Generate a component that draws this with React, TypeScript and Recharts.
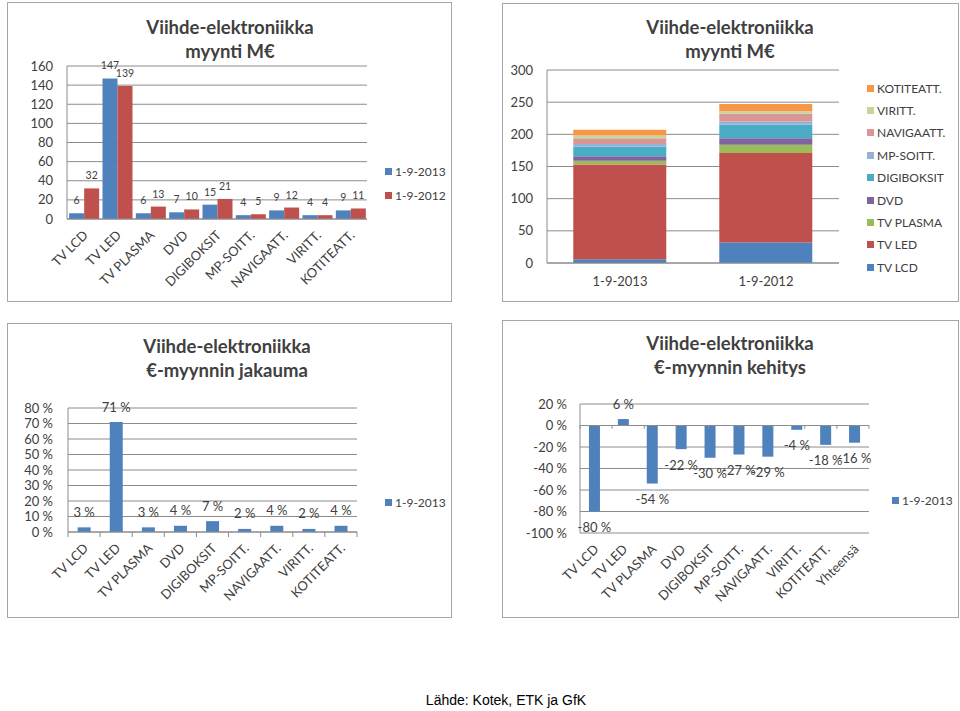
import React from "react";
import { BarChart, Bar, XAxis, YAxis, CartesianGrid, LabelList, Legend, ReferenceLine } from "recharts";

const categories = ["TV LCD", "TV LED", "TV PLASMA", "DVD", "DIGIBOKSIT", "MP-SOITT.", "NAVIGAATT.", "VIRITT.", "KOTITEATT."];
const periods = ["1-9-2013", "1-9-2012"];
const sales2013 = [6, 147, 6, 7, 15, 4, 9, 4, 9];
const sales2012 = [32, 139, 13, 10, 21, 5, 12, 4, 11];
const share2013 = [3, 71, 3, 4, 7, 2, 4, 2, 4];
const changeCategories = [...categories, "Yhteensä"];
const change2013 = [-80, 6, -54, -22, -30, -27, -29, -4, -18, -16];

const salesTicks = [0, 20, 40, 60, 80, 100, 120, 140, 160];
const stackTicks = [0, 50, 100, 150, 200, 250, 300];
const shareTicks = [0, 10, 20, 30, 40, 50, 60, 70, 80];
const changeTicks = [-100, -80, -60, -40, -20, 0, 20];

const stackColors = ["#4F81BD", "#C0504D", "#9BBB59", "#8064A2", "#4BACC6", "#95B3D7", "#D99694", "#C3D69B", "#F79646"];
const BLUE = "#4F81BD";
const RED = "#C0504D";
const TEXT = "#404040";
const GRID = "#8C8C8C";
const FONT = "Lato, 'Open Sans', sans-serif";

const salesData = categories.map((c, i) => ({ name: c, a: sales2013[i], b: sales2012[i] }));
const stackData = periods.map((p, pi) => {
  const row: Record<string, string | number> = { name: p };
  categories.forEach((c, i) => {
    row[c] = (pi === 0 ? sales2013 : sales2012)[i];
  });
  return row;
});
const shareData = categories.map((c, i) => ({ name: c, v: share2013[i] }));
const changeData = changeCategories.map((c, i) => ({ name: c, v: change2013[i] }));

const pct = (v: number) => `${v} %`;

function RotatedTick(props: any) {
  const { x, y, payload, index, marks, count } = props;
  const half = typeof payload?.offset === "number" ? payload.offset : 0;
  const ax = x + 5;
  const ay = y + 17;
  return (
    <g>
      {marks ? <line x1={x - half} x2={x - half} y1={y} y2={y + 5} stroke={GRID} /> : null}
      {marks && index === count - 1 ? <line x1={x + half} x2={x + half} y1={y} y2={y + 5} stroke={GRID} /> : null}
      <text x={ax} y={ay} textAnchor="end" transform={`rotate(-45 ${ax} ${ay})`} fontSize={13} fill={TEXT} fontFamily={FONT}>
        {payload.value}
      </text>
    </g>
  );
}

// percent label: above positive bars, below negative ones
function PctLabel(props: any) {
  const { x, y, width, height, value } = props;
  const top = Math.min(y, y + height);
  const bottom = Math.max(y, y + height);
  const cy = value < 0 ? bottom + 16 : top - 15;
  return (
    <text x={x + width / 2} y={cy} dy="0.35em" textAnchor="middle" fontSize={13} fill={TEXT} fontFamily={FONT}>
      {pct(value)}
    </text>
  );
}

function LegendList({ items, step }: { items: { label: string; color: string }[]; step: number }) {
  return (
    <div style={{ fontFamily: FONT, fontSize: 12, color: TEXT }}>
      {items.map((it) => (
        <div key={it.label} style={{ height: step, display: "flex", alignItems: "center", whiteSpace: "nowrap" }}>
          <span style={{ width: 7, height: 7, background: it.color, marginRight: 3, display: "inline-block" }} />
          {it.label}
        </div>
      ))}
    </div>
  );
}

function Title({ lines, cx, top }: { lines: string[]; cx: number; top: number }) {
  return (
    <div
      style={{
        position: "absolute",
        left: cx - 150,
        top,
        width: 300,
        textAlign: "center",
        fontFamily: FONT,
        fontWeight: 700,
        fontSize: 18.5,
        lineHeight: "24px",
        color: TEXT,
        zIndex: 2,
      }}
    >
      {lines.map((l) => (
        <div key={l}>{l}</div>
      ))}
    </div>
  );
}

function Panel({ left, top, width, height, children }: any) {
  return (
    <div style={{ position: "absolute", left, top, width, height, boxSizing: "border-box", border: "1px solid #A6A6A6" }}>
      <div style={{ position: "absolute", left: -1, top: -1 }}>{children}</div>
    </div>
  );
}

const yTick = { fontSize: 13, fill: TEXT, fontFamily: FONT };

export default function App() {
  return (
    <div style={{ position: "absolute", left: 0, top: 0, width: 960, height: 711, background: "#fff", fontFamily: FONT }}>
      {/* myynti M€, grouped */}
      <Panel left={7} top={2} width={445} height={300}>
        <Title lines={["Viihde-elektroniikka", "myynti  M€"]} cx={223} top={13} />
        <BarChart width={445} height={300} data={salesData} margin={{ top: 64, right: 85, bottom: 0, left: 0 }} barCategoryGap="6.5%" barGap={0}>
          <CartesianGrid vertical={false} stroke={GRID} />
          <XAxis dataKey="name" height={83} interval={0} tickLine={false} tickSize={0} tickMargin={0} stroke={GRID} tick={<RotatedTick />} />
          <YAxis width={60} domain={[0, 160]} ticks={salesTicks} interval={0} tickLine={false} tickSize={0} tickMargin={14} stroke={GRID} tick={yTick} />
          <Bar dataKey="a" name={periods[0]} fill={BLUE} isAnimationActive={false}>
            <LabelList dataKey="a" position="top" offset={9} fontSize={10.5} fill={TEXT} fontFamily={FONT} />
          </Bar>
          <Bar dataKey="b" name={periods[1]} fill={RED} isAnimationActive={false}>
            <LabelList dataKey="b" position="top" offset={9} fontSize={10.5} fill={TEXT} fontFamily={FONT} />
          </Bar>
          <Legend
            layout="horizontal"
            verticalAlign="middle"
            wrapperStyle={{ left: 378, top: 157, width: 70 }}
            content={() => <LegendList step={24} items={periods.map((p, i) => ({ label: p, color: i === 0 ? BLUE : RED }))} />}
          />
        </BarChart>
      </Panel>

      {/* myynti M€, stacked */}
      <Panel left={502} top={3} width={457} height={299}>
        <Title lines={["Viihde-elektroniikka", "myynti M€"]} cx={228} top={12} />
        <BarChart width={457} height={299} data={stackData} margin={{ top: 67, right: 120, bottom: 0, left: 0 }} barCategoryGap="18%">
          <CartesianGrid vertical={false} stroke={GRID} />
          <XAxis dataKey="name" height={39} tickLine={false} tickSize={0} tickMargin={14} stroke={GRID} tick={{ fontSize: 13, fill: TEXT, fontFamily: FONT }} />
          <YAxis width={45} domain={[0, 300]} ticks={stackTicks} interval={0} tickLine={false} tickSize={0} tickMargin={14} stroke={GRID} tick={yTick} />
          {categories.map((c, i) => (
            <Bar key={c} dataKey={c} stackId="s" fill={stackColors[i]} isAnimationActive={false} />
          ))}
          <Legend
            layout="horizontal"
            verticalAlign="middle"
            wrapperStyle={{ left: 365, top: 74, width: 90 }}
            content={() => (
              <LegendList step={22.4} items={categories.map((c, i) => ({ label: c, color: stackColors[i] })).reverse()} />
            )}
          />
        </BarChart>
      </Panel>

      {/* €-myynnin jakauma */}
      <Panel left={7} top={323} width={445} height={295}>
        <Title lines={["Viihde-elektroniikka", "€-myynnin jakauma"]} cx={220} top={11} />
        <BarChart width={445} height={295} data={shareData} margin={{ top: 85, right: 95, bottom: 0, left: 0 }} barCategoryGap="30%">
          <CartesianGrid vertical={false} stroke={GRID} />
          <XAxis
            dataKey="name"
            height={86}
            interval={0}
            tickLine={false}
            tickSize={0}
            tickMargin={0}
            stroke={GRID}
            tick={<RotatedTick marks count={categories.length} />}
          />
          <YAxis width={61} domain={[0, 80]} ticks={shareTicks} interval={0} tickFormatter={pct} tickLine={false} tickSize={0} tickMargin={15} stroke={GRID} tick={yTick} />
          <Bar dataKey="v" name={periods[0]} fill={BLUE} isAnimationActive={false}>
            <LabelList dataKey="v" content={<PctLabel />} />
          </Bar>
          <Legend
            layout="horizontal"
            verticalAlign="middle"
            wrapperStyle={{ left: 378, top: 167, width: 70 }}
            content={() => <LegendList step={24} items={[{ label: periods[0], color: BLUE }]} />}
          />
        </BarChart>
      </Panel>

      {/* €-myynnin kehitys */}
      <Panel left={502} top={320} width={457} height={298}>
        <Title lines={["Viihde-elektroniikka", "€-myynnin kehitys"]} cx={228} top={11} />
        <BarChart width={457} height={298} data={changeData} margin={{ top: 84, right: 90, bottom: 0, left: 0 }} barCategoryGap="31%">
          <CartesianGrid vertical={false} stroke={GRID} />
          <XAxis dataKey="name" height={85} interval={0} axisLine={false} tickLine={false} tickSize={0} tickMargin={0} tick={<RotatedTick />} />
          <XAxis xAxisId="n" type="number" domain={[0, changeCategories.length]} hide />
          <YAxis width={78} domain={[-100, 20]} ticks={changeTicks} interval={0} tickFormatter={pct} tickLine={false} tickSize={0} tickMargin={13} stroke={GRID} tick={yTick} />
          <ReferenceLine y={0} stroke={GRID} />
          {changeCategories.map((c, i) => (
            <ReferenceLine
              key={c}
              xAxisId="n"
              stroke={GRID}
              segment={[
                { x: i, y: 0 },
                { x: i, y: -3 },
              ]}
            />
          ))}
          <Bar dataKey="v" name={periods[0]} fill={BLUE} isAnimationActive={false}>
            <LabelList dataKey="v" content={<PctLabel />} />
          </Bar>
          <Legend
            layout="horizontal"
            verticalAlign="middle"
            wrapperStyle={{ left: 390, top: 168, width: 70 }}
            content={() => <LegendList step={24} items={[{ label: periods[0], color: BLUE }]} />}
          />
        </BarChart>
      </Panel>

      <div
        style={{
          position: "absolute",
          left: 356,
          top: 692,
          width: 300,
          textAlign: "center",
          fontFamily: "'Liberation Sans', Arial, sans-serif",
          fontSize: 14,
          color: "#000",
        }}
      >
        Lähde: Kotek, ETK ja GfK
      </div>
    </div>
  );
}
